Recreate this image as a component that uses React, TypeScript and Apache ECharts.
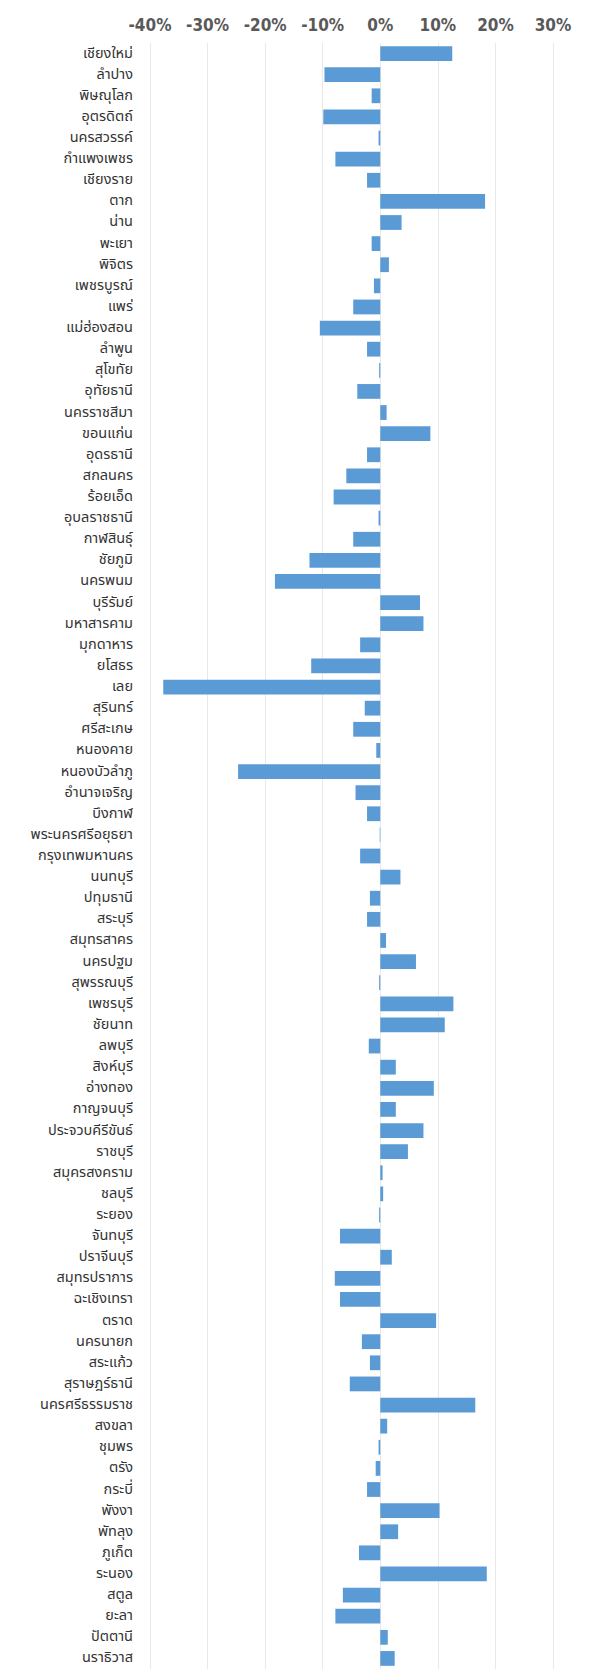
import React, { useEffect, useRef } from "react";
import * as echarts from "echarts";

const provinces: string[] = [
  "เชียงใหม่", "ลำปาง", "พิษณุโลก", "อุตรดิตถ์", "นครสวรรค์", "กำแพงเพชร", "เชียงราย", "ตาก", "น่าน", "พะเยา",
  "พิจิตร", "เพชรบูรณ์", "แพร่", "แม่ฮ่องสอน", "ลำพูน", "สุโขทัย", "อุทัยธานี", "นครราชสีมา", "ขอนแก่น", "อุดรธานี",
  "สกลนคร", "ร้อยเอ็ด", "อุบลราชธานี", "กาฬสินธุ์", "ชัยภูมิ", "นครพนม", "บุรีรัมย์", "มหาสารคาม", "มุกดาหาร", "ยโสธร",
  "เลย", "สุรินทร์", "ศรีสะเกษ", "หนองคาย", "หนองบัวลำภู", "อำนาจเจริญ", "บึงกาฬ", "พระนครศรีอยุธยา", "กรุงเทพมหานคร", "นนทบุรี",
  "ปทุมธานี", "สระบุรี", "สมุทรสาคร", "นครปฐม", "สุพรรณบุรี", "เพชรบุรี", "ชัยนาท", "ลพบุรี", "สิงห์บุรี", "อ่างทอง",
  "กาญจนบุรี", "ประจวบคีรีขันธ์", "ราชบุรี", "สมุครสงคราม", "ชลบุรี", "ระยอง", "จันทบุรี", "ปราจีนบุรี", "สมุทรปราการ", "ฉะเชิงเทรา",
  "ตราด", "นครนายก", "สระแก้ว", "สุราษฎร์ธานี", "นครศรีธรรมราช", "สงขลา", "ชุมพร", "ตรัง", "กระบี่", "พังงา",
  "พัทลุง", "ภูเก็ต", "ระนอง", "สตูล", "ยะลา", "ปัตตานี", "นราธิวาส",
];

const changePct: number[] = [
  12.5, -9.7, -1.5, -9.9, -0.3, -7.8, -2.3, 18.2, 3.7, -1.5,
  1.5, -1.1, -4.7, -10.5, -2.3, -0.2, -4.0, 1.1, 8.7, -2.3,
  -5.9, -8.1, -0.3, -4.7, -12.3, -18.3, 6.9, 7.5, -3.5, -12.0,
  -37.7, -2.7, -4.7, -0.7, -24.7, -4.3, -2.3, -0.1, -3.5, 3.5,
  -1.8, -2.3, 1.0, 6.2, -0.2, 12.7, 11.2, -2.0, 2.7, 9.3,
  2.7, 7.5, 4.8, 0.4, 0.5, -0.2, -7.0, 2.0, -7.9, -7.0,
  9.7, -3.2, -1.8, -5.3, 16.5, 1.2, -0.3, -0.8, -2.3, 10.3,
  3.1, -3.7, 18.5, -6.5, -7.8, 1.3, 2.5,
];

const axisMin = -40;
const axisMax = 30;
const axisStep = 10;

export default function App() {
  const ref = useRef<HTMLDivElement>(null);
  useEffect(() => {
    if (!ref.current) return;
    const chart = echarts.init(ref.current, undefined, { renderer: "svg" });
    chart.setOption({
      animation: false,
      backgroundColor: "#ffffff",
      grid: { left: 150, right: 44, top: 43, bottom: 6, containLabel: false },
      xAxis: {
        type: "value",
        position: "top",
        min: axisMin,
        max: axisMax,
        interval: axisStep,
        axisLine: { show: false },
        axisTick: { show: false },
        splitLine: { show: true, lineStyle: { color: "#e8e8e8", width: 1 } },
        axisLabel: {
          formatter: (v: number) => `${v}%`,
          color: "#595959",
          fontFamily: "'DejaVu Sans Condensed', sans-serif",
          fontWeight: "bold",
          fontSize: 17,
          margin: 10,
        },
      },
      yAxis: {
        type: "category",
        inverse: true,
        data: provinces,
        axisLine: { show: false },
        axisTick: { show: false },
        splitLine: { show: false },
        axisLabel: {
          color: "#333333",
          fontSize: 14.5,
          margin: 17,
          interval: 0,
          fontFamily: "'Noto Sans Thai', 'Noto Sans', sans-serif",
        },
      },
      series: [
        {
          type: "bar",
          data: changePct,
          barCategoryGap: "30%",
          itemStyle: { color: "#5B9BD5" },
        },
      ],
    });
    return () => chart.dispose();
  }, []);
  return (
    <div
      ref={ref}
      style={{ position: "absolute", left: 0, top: 0, width: 597, height: 1675 }}
    />
  );
}
